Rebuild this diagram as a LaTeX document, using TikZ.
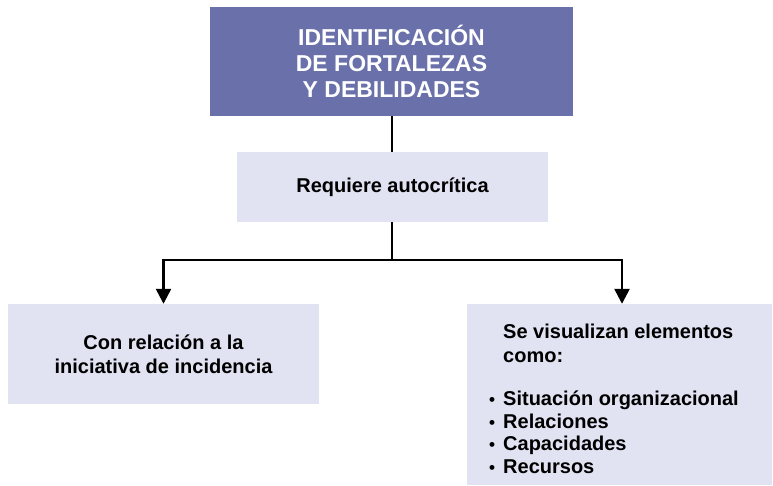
\documentclass[tikz,border=0pt]{standalone}
\usepackage{fontspec}
\setmainfont{Liberation Sans}
\usetikzlibrary{arrows.meta}
\definecolor{topblue}{HTML}{6A70AA}
\definecolor{lightblue}{HTML}{E1E2F2}
\tikzset{
  titlebox/.style={fill=topblue, text=white, draw=none, inner sep=0pt, align=center,
    font=\fontsize{23}{25.75}\selectfont\bfseries},
  lightbox/.style={fill=lightblue, draw=none, inner sep=0pt, align=center,
    font=\fontsize{20}{24}\selectfont\bfseries},
  conn/.style={line width=2.5pt, draw=black},
  connarrow/.style={conn, -{Triangle[width=15pt,length=15pt]}},
  bodytext/.style={inner sep=0pt, align=left, font=\fontsize{20}{22.5}\selectfont\bfseries}
}
\newcommand{\bul}{\makebox[14pt][l]{\fontsize{17}{17}\selectfont•}}
\begin{document}
\begin{tikzpicture}[x=1pt,y=-1pt]
\useasboundingbox (0,0) rectangle (773,486);
\node[titlebox, minimum width=363pt, minimum height=109pt] (top) at (391.5,61.5)
  {IDENTIFICACIÓN\\DE FORTALEZAS\\Y DEBILIDADES};
\node[lightbox, minimum width=311pt, minimum height=70pt] (req) at (392.5,187)
  {Requiere autocrítica};
\node[lightbox, minimum width=311pt, minimum height=100pt] (left) at (163.5,354)
  {Con relación a la\\iniciativa de incidencia};
\node[lightbox, minimum width=305pt, minimum height=181pt] (right) at (619.5,394.5) {};
\node[bodytext, anchor=base west] (list) at (489,473)
  {\makebox[14pt][l]{}Se visualizan elementos\\[1.5pt]
   \makebox[14pt][l]{}como:\\[21pt]
   \bul Situación organizacional\\
   \bul Relaciones\\
   \bul Capacidades\\
   \bul Recursos};
\coordinate (split) at (392,260);
\draw[conn] (top.south -| 392,0) -- (req.north -| 392,0);
\draw[conn] (req.south -| 392,0) -- (split);
\draw[connarrow] (split) -| (left.north);
\draw[connarrow] (split) -| ([xshift=2.5pt]right.north);
\end{tikzpicture}
\end{document}
